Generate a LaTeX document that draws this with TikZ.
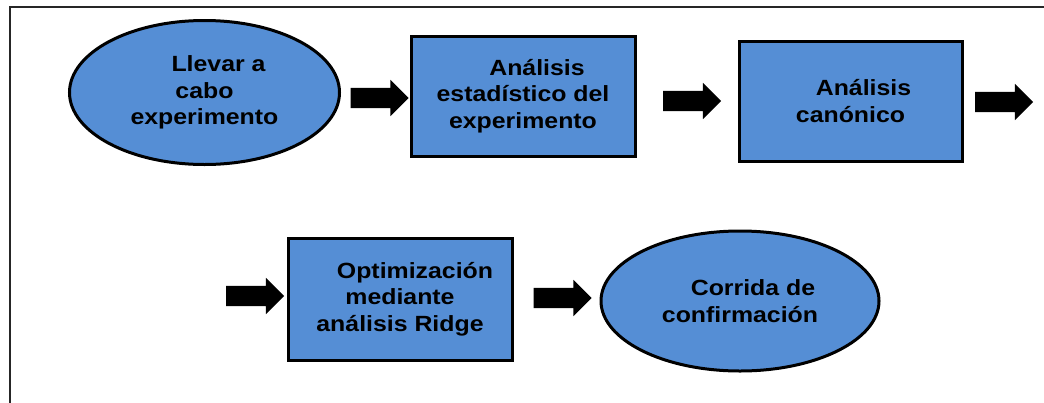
\documentclass[tikz,border=0pt]{standalone}
\usepackage{fontspec}
\setmainfont[FakeStretch=1.13]{Liberation Sans}
\usetikzlibrary{shapes.geometric,shapes.arrows}
\definecolor{boxblue}{HTML}{558ED5}
\tikzset{
  flowtext/.style={align=center, text=black, font=\fontsize{22}{26.5}\selectfont\bfseries, inner sep=0pt},
  flowbox/.style={flowtext, rectangle, draw=black, line width=3pt, fill=boxblue},
  flowoval/.style={flowtext, ellipse, draw=black, line width=3pt, fill=boxblue},
  blockarrow/.style={single arrow, fill=black, draw=none, inner xsep=0pt, inner ysep=10pt,
    minimum height=58pt, single arrow head extend=8pt, single arrow head indent=0pt}
}
\begin{document}
\begin{tikzpicture}[x=1pt,y=-1pt]
\useasboundingbox (0,0) rectangle (1044,402);
\fill[white] (0,0) rectangle (1044,402);
% outer frame (only top and left edges visible)
\draw[line width=1.6pt, black!85] (10,420) -- (10,7) -- (1060,7);

\node[flowoval, minimum width=270pt, minimum height=144pt] (e1) at (204.5,92.5)
  {\hspace*{28pt}Llevar a\\cabo\\experimento};
\node[flowbox, minimum width=224pt, minimum height=120pt] (b2) at (523,96)
  {\hspace*{28pt}Análisis\\estadístico del\\experimento};
\node[flowbox, minimum width=223pt, minimum height=120pt] (b3) at (850.5,101)
  {\hspace*{26pt}Análisis\\canónico};
\node[flowbox, minimum width=224pt, minimum height=122pt] (b4) at (400,299)
  {\hspace*{30pt}Optimización\\mediante\\análisis Ridge};
\node[flowoval, minimum width=278pt, minimum height=140pt] (e2) at (740,301)
  {\hspace*{26pt}Corrida de\\confirmación};

\node[blockarrow] (a1) at (374.5,98) {};
\node[blockarrow] (a2) at (687,101) {};
\node[blockarrow] (a3) at (999,102) {};
\node[blockarrow] (a4) at (250,296) {};
\node[blockarrow] (a5) at (557.5,298) {};
\end{tikzpicture}
\end{document}
